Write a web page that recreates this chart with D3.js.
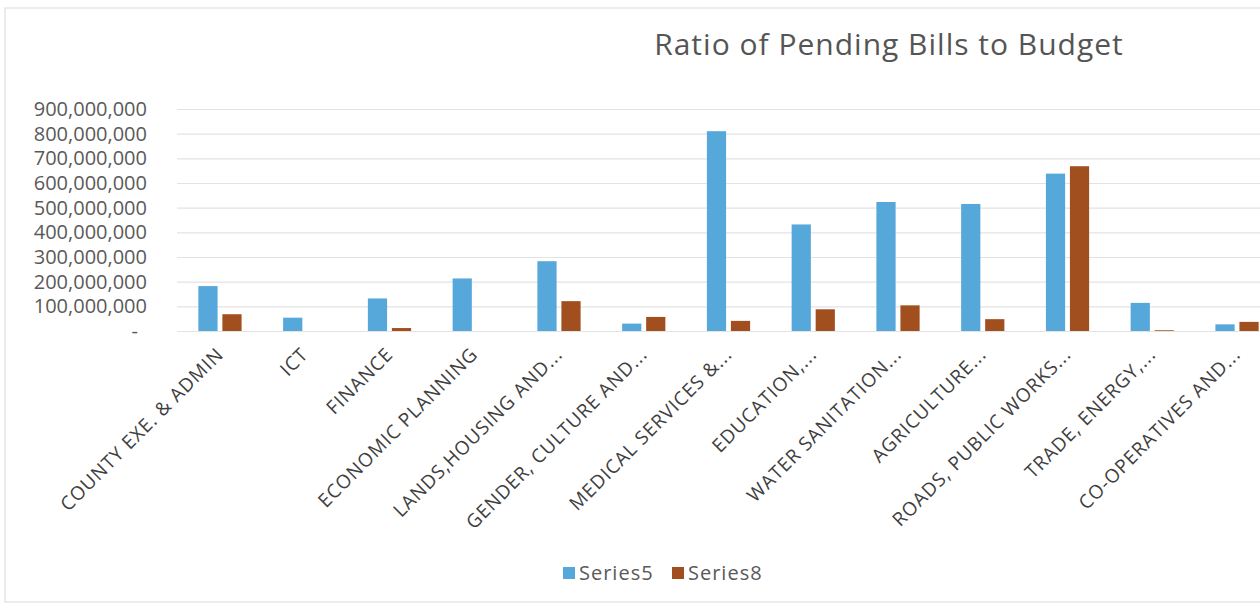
<!DOCTYPE html>
<html>
<head>
<meta charset="utf-8">
<script src="https://cdn.jsdelivr.net/npm/d3@7"></script>
<style>
  body { margin: 0; background: #fff; }
  #chart text { font-family: "Open Sans", "DejaVu Sans", sans-serif; }
</style>
</head>
<body>
<div id="chart"></div>
<script>
// categories + values
let categories = ['COUNTY EXE. & ADMIN','ICT','FINANCE','ECONOMIC PLANNING','LANDS,HOUSING AND...',
    'GENDER, CULTURE AND...','MEDICAL SERVICES &...','EDUCATION,...','WATER SANITATION...',
    'AGRICULTURE...','ROADS, PUBLIC WORKS...','TRADE, ENERGY,...','CO-OPERATIVES AND...'];
let series5 = [182e6, 54e6, 132e6, 213e6, 283e6, 30e6, 810e6, 432e6, 523e6, 515e6, 638e6, 114e6, 27e6];
let series8 = [68e6, 0, 12e6, 0, 121e6, 57e6, 41e6, 88e6, 104e6, 48e6, 668e6, 3e6, 37e6];
let seriesNames = ['Series5','Series8'];
let yTicks = [0,100e6,200e6,300e6,400e6,500e6,600e6,700e6,800e6,900e6];

let W = 1260, H = 608;
let colors = {Series5:'#56a8da', Series8:'#a24f1f'};

let svg = d3.select('#chart').append('svg')
    .attr('width', W).attr('height', H);

// faint outer frame of the chart area
svg.append('rect')
    .attr('x',5).attr('y',8).attr('width',W+10).attr('height',H-14)
    .attr('fill','none').attr('stroke','#e6e6e6').attr('stroke-width',1.5);

let x0 = d3.scaleBand().domain(categories).range([177.6, 1279.4]).paddingInner(0.49).paddingOuter(0.245);
let x1 = d3.scaleBand().domain(seriesNames).range([0, x0.bandwidth()]).paddingInner(0.2).paddingOuter(0);
let y = d3.scaleLinear().domain([0, 900e6]).range([331, 109]);

// gridlines
let grid = svg.append('g').attr('transform','translate(177,0)')
    .call(d3.axisLeft(y).tickValues(yTicks).tickSize(-(W-177)).tickFormat(''));
grid.select('.domain').remove();
grid.selectAll('line').attr('stroke','#e3e3e3').attr('stroke-width',1.2);

// y axis labels
let yAx = svg.append('g').attr('transform','translate(147,0)')
    .call(d3.axisLeft(y).tickValues(yTicks).tickSize(0).tickPadding(0)
        .tickFormat(d=>d==0?'-':d3.format(',')(d)));
yAx.select('.domain').remove();
yAx.selectAll('text').attr('font-size',20).attr('fill','#5a5a5a')
    .attr('x',d=>d==0?-9:0);

// bars
let rows = categories.map((c,i)=>({cat:c, vals:[{k:'Series5',v:series5[i]},{k:'Series8',v:series8[i]}]}));
let grp = svg.append('g').selectAll('g').data(rows)
    .enter().append('g')
    .attr('transform',d=>'translate(' + x0(d.cat) + ',0)');
grp.selectAll('rect').data(d=>d.vals.filter(e=>e.v>0))
    .enter().append('rect')
    .attr('x',d=>x1(d.k)).attr('width',x1.bandwidth())
    .attr('y',d=>y(d.v)).attr('height',d=>y(0)-y(d.v))
    .attr('fill',d=>colors[d.k]);

// x axis labels, rotated
let xAx = svg.append('g').attr('transform','translate(0,346)')
    .call(d3.axisBottom(x0).tickSize(0).tickPadding(0));
xAx.select('.domain').remove();
xAx.selectAll('text')
    .attr('font-size',19).attr('fill','#404040')
    .attr('letter-spacing','0.9px')
    .attr('text-anchor','end')
    .attr('dy','0.72em').attr('y',0).attr('x',0)
    .attr('transform','translate(-5,0) rotate(-45)');

// title
svg.append('text')
    .attr('x',889).attr('y',55)
    .attr('text-anchor','middle')
    .attr('font-size',30).attr('fill','#555')
    .attr('letter-spacing','1px')
    .text('Ratio of Pending Bills to Budget');

// legend
let leg = svg.append('g').selectAll('g').data(seriesNames)
    .enter().append('g')
    .attr('transform',(d,i)=>'translate(' + (563 + i*109) + ',567)');
leg.append('rect').attr('width',12).attr('height',12).attr('fill',d=>colors[d]);
leg.append('text').attr('x',16).attr('y',12.5).attr('font-size',20)
    .attr('letter-spacing','1px').attr('fill','#595959').text(d=>d);
</script>
</body>
</html>
